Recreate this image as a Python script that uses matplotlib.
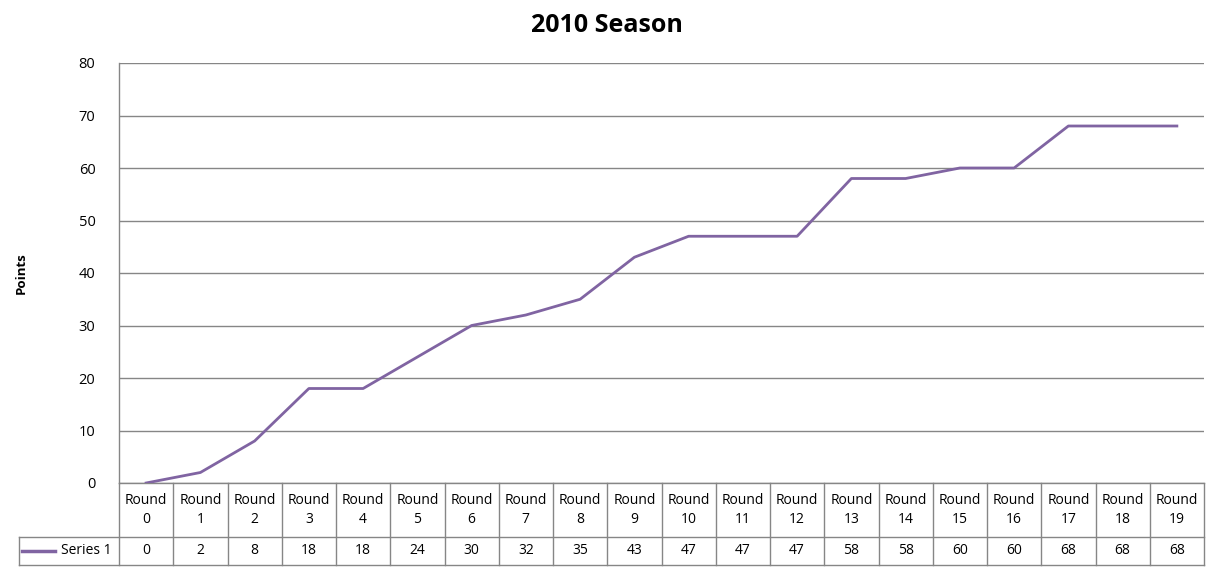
import matplotlib
matplotlib.use("Agg")
import matplotlib.pyplot as plt
from matplotlib.transforms import blended_transform_factory

plt.rcParams['font.family'] = ['Open Sans', 'DejaVu Sans']

rounds = ["Round\n%d" % i for i in range(20)]
points = [0, 2, 8, 18, 18, 24, 30, 32, 35, 43, 47, 47, 47, 58, 58, 60, 60, 68, 68, 68]
series_name = "Series 1"
yticks = [0, 10, 20, 30, 40, 50, 60, 70, 80]

line_col = "#8064A2"
grid_col = "#868686"

W, H = 1215, 570
fig = plt.figure(figsize=(W / 100, H / 100), dpi=100)
# plot area in pixels: x 119..1204, y 63..483
ax = fig.add_axes([119 / W, 1 - 483 / H, (1204 - 119) / W, (483 - 63) / H])

x = list(range(len(points)))
ax.plot(x, points, color=line_col, lw=2.0, solid_joinstyle='round', zorder=3)
ax.set_xlim(-0.5, len(points) - 0.5)
ax.set_ylim(0, 80)
ax.set_yticks(yticks)
ax.set_xticks([])
ax.yaxis.grid(True, color=grid_col, lw=1)
ax.set_axisbelow(True)
for s in ['top', 'right', 'bottom']:
    ax.spines[s].set_visible(False)
ax.spines['left'].set_color(grid_col)
ax.spines['left'].set_linewidth(1)
ax.tick_params(axis='y', length=0, pad=17, labelsize=10.5)

fig.text(607 / W, 1 - 25 / H, "2010 Season", fontsize=18, fontweight='bold',
         ha='center', va='center')
fig.text(21 / W, 1 - 273 / H, "Points", rotation=90, fontsize=9.5, fontweight='bold',
         ha='center', va='center')

# data table under the plot
tr = blended_transform_factory(ax.transData, ax.transAxes)
px = 1085 / len(points)  # pixels per category
h1 = -54 / 420
h2 = -82 / 420
left = -0.5 - 100 / px
kw = dict(color=grid_col, lw=1, clip_on=False, transform=tr)
for i in range(len(points) + 1):
    ax.plot([i - 0.5, i - 0.5], [0, h2], **kw)
ax.plot([left, left], [h1, h2], **kw)
ax.plot([left, len(points) - 0.5], [h1, h1], **kw)
ax.plot([left, len(points) - 0.5], [h2, h2], **kw)
ax.plot([-0.5, len(points) - 0.5], [0, 0], **kw)

for i, (lab, v) in enumerate(zip(rounds, points)):
    ax.text(i, h1 / 2, lab, transform=tr, ha='center', va='center', fontsize=10,
            linespacing=1.35)
    ax.text(i, (h1 + h2) / 2, str(v), transform=tr, ha='center', va='center', fontsize=10)

# legend key in the row label cell
ax.plot([left + 3 / px, left + 36 / px], [(h1 + h2) / 2] * 2, color=line_col, lw=2.5,
        clip_on=False, transform=tr)
ax.text(-0.5 - 7 / px, (h1 + h2) / 2, series_name, transform=tr, ha='right', va='center',
        fontsize=10)

fig.savefig("out.png", dpi=100)
